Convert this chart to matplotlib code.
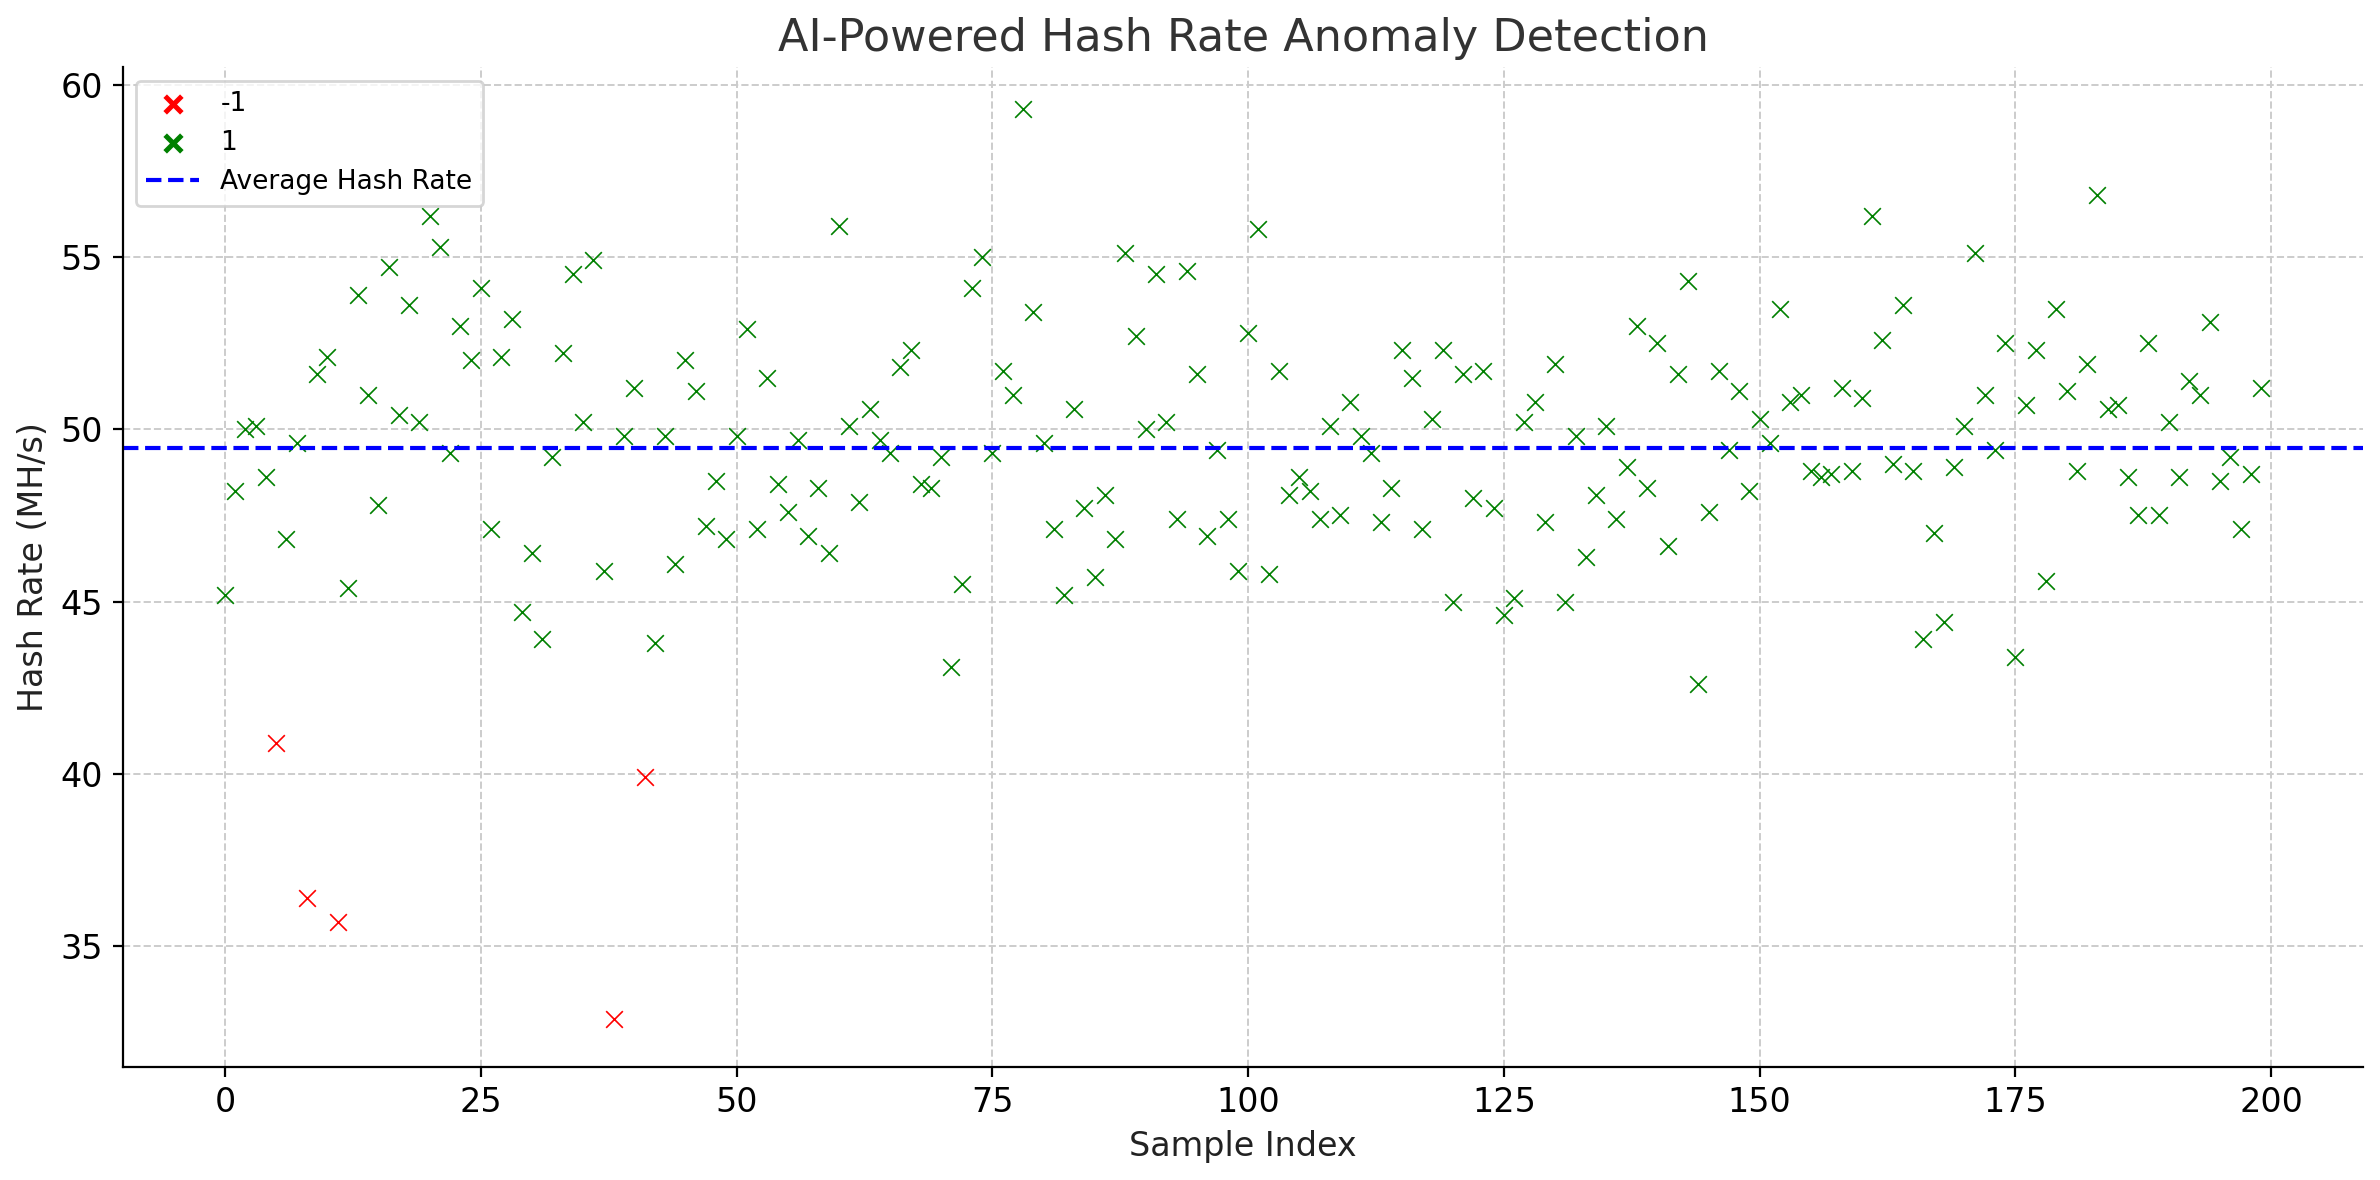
import matplotlib
matplotlib.use("Agg")
import matplotlib.pyplot as plt
import numpy as np

values = [45.2,48.2,50.0,50.1,48.6,40.9,46.8,49.6,36.4,51.6,
52.1,35.7,45.4,53.9,51.0,47.8,54.7,50.4,53.6,50.2,
56.2,55.3,49.3,53.0,52.0,54.1,47.1,52.1,53.2,44.7,
46.4,43.9,49.2,52.2,54.5,50.2,54.9,45.9,32.9,49.8,
51.2,39.9,43.8,49.8,46.1,52.0,51.1,47.2,48.5,46.8,
49.8,52.9,47.1,51.5,48.4,47.6,49.7,46.9,48.3,46.4,
55.9,50.1,47.9,50.6,49.7,49.3,51.8,52.3,48.4,48.3,
49.2,43.1,45.5,54.1,55.0,49.3,51.7,51.0,59.3,53.4,
49.6,47.1,45.2,50.6,47.7,45.7,48.1,46.8,55.1,52.7,
50.0,54.5,50.2,47.4,54.6,51.6,46.9,49.4,47.4,45.9,
52.8,55.8,45.8,51.7,48.1,48.6,48.2,47.4,50.1,47.5,
50.8,49.8,49.3,47.3,48.3,52.3,51.5,47.1,50.3,52.3,
45.0,51.6,48.0,51.7,47.7,44.6,45.1,50.2,50.8,47.3,
51.9,45.0,49.8,46.3,48.1,50.1,47.4,48.9,53.0,48.3,
52.5,46.6,51.6,54.3,42.6,47.6,51.7,49.4,51.1,48.2,
50.3,49.6,53.5,50.8,51.0,48.8,48.6,48.7,51.2,48.8,
50.9,56.2,52.6,49.0,53.6,48.8,43.9,47.0,44.4,48.9,
50.1,55.1,51.0,49.4,52.5,43.4,50.7,52.3,45.6,53.5,
51.1,48.8,51.9,56.8,50.6,50.7,48.6,47.5,52.5,47.5,
50.2,48.6,51.4,51.0,53.1,48.5,49.2,47.1,48.7,51.2]
anomaly_idx = [5, 8, 11, 38, 41]
avg_rate = 49.45

idx = np.arange(len(values))
vals = np.array(values)
labels = np.ones(len(values), dtype=int)
labels[anomaly_idx] = -1

fig, ax = plt.subplots(figsize=(11.9, 5.9), dpi=200)
for lab, col in [(-1, 'red'), (1, 'green')]:
    m = labels == lab
    ax.scatter(idx[m], vals[m], marker='x', color=col, s=36, linewidths=0.6, label=str(lab))
ax.axhline(avg_rate, color='blue', linestyle='--', linewidth=1.5, label='Average Hash Rate')
ax.set_xlim(-10, 209)
ax.set_ylim(31.5, 60.5)
ax.set_title('AI-Powered Hash Rate Anomaly Detection', fontsize=16, color='#333333')
ax.set_xlabel('Sample Index', fontsize=12, color='#222222')
ax.set_ylabel('Hash Rate (MH/s)', fontsize=12, color='#222222')
ax.grid(True, linestyle='--', color='#cccccc', linewidth=0.7)
ax.set_axisbelow(True)
for s in ['top', 'right']:
    ax.spines[s].set_visible(False)
ax.tick_params(labelsize=12)
leg = ax.legend(loc='upper left', fontsize=9.5)
for h in leg.legend_handles[:2]:
    h.set_linewidths(1.8)
fig.tight_layout(pad=0.6)
fig.savefig('out.png', dpi=200)
